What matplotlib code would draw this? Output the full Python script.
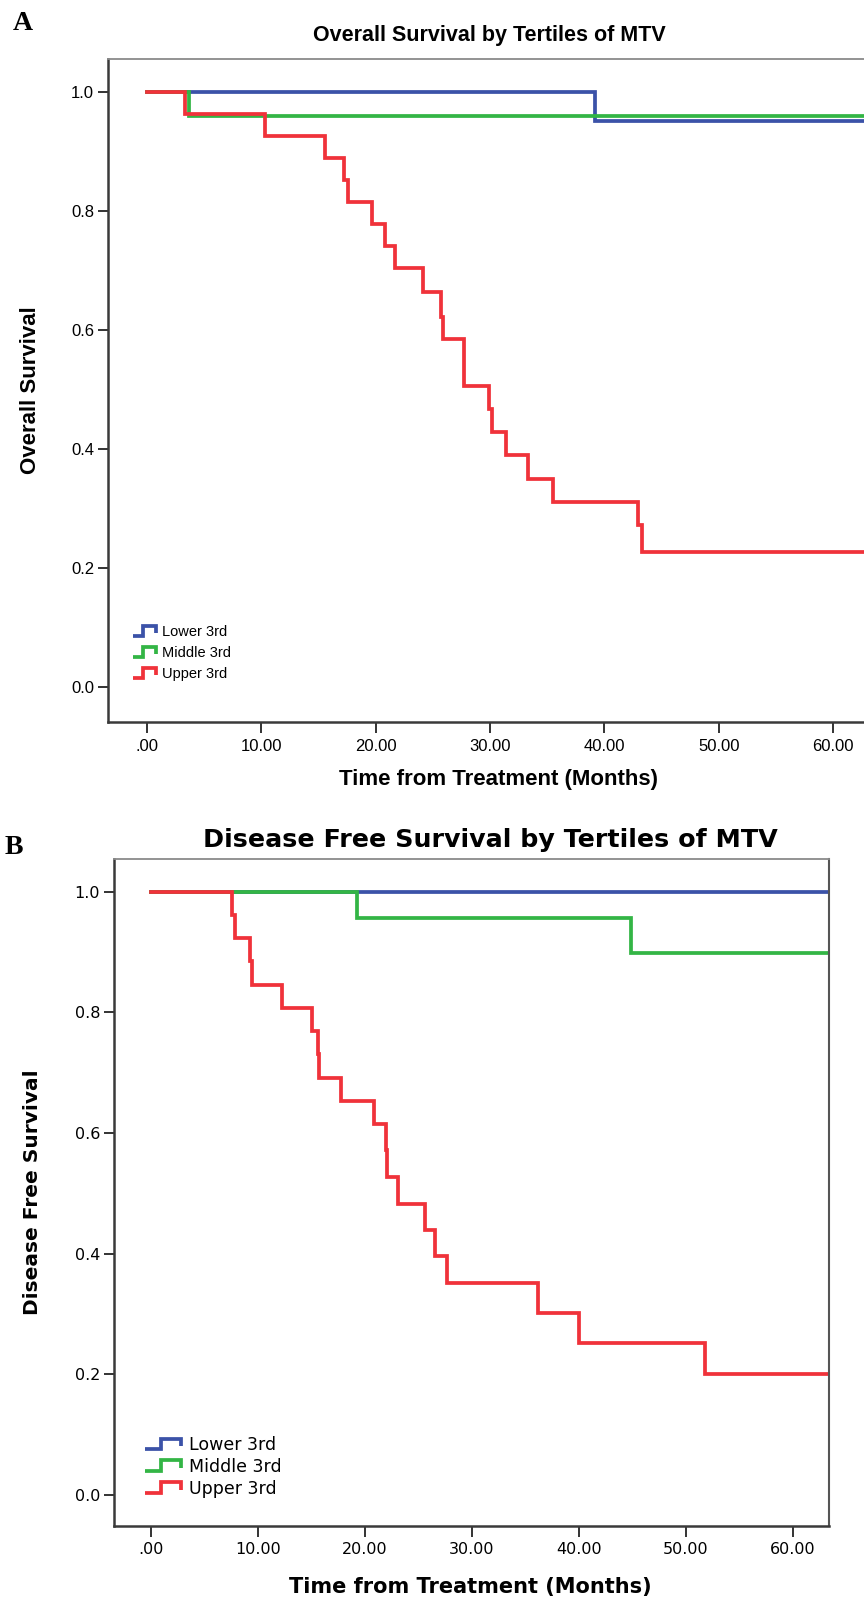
import matplotlib as mpl
mpl.use('AGG')
import matplotlib.pyplot as plt
from matplotlib.lines import Line2D
from matplotlib.legend_handler import HandlerBase

# Overall survival (panel A), months / survival fraction
os_lower_t = [0, 39.2, 64]
os_lower_s = [1.0, 0.95, 0.95]
os_middle_t = [0, 3.7, 64]
os_middle_s = [1.0, 0.96, 0.96]
os_upper_t = [0, 3.3, 10.3, 15.6, 17.2, 17.6, 19.7, 20.8, 21.7, 24.1, 25.7,
              25.9, 27.7, 29.9, 30.2, 31.4, 33.3, 35.5, 42.9, 43.3, 64]
os_upper_s = [1.0, 0.963, 0.926, 0.889, 0.852, 0.815, 0.778, 0.741, 0.703,
              0.663, 0.622, 0.584, 0.506, 0.467, 0.428, 0.389, 0.350, 0.311,
              0.272, 0.227, 0.227]

# Disease free survival (panel B)
dfs_lower_t = [0, 64]
dfs_lower_s = [1.0, 1.0]
dfs_middle_t = [0, 19.3, 44.9, 64]
dfs_middle_s = [1.0, 0.957, 0.898, 0.898]
dfs_upper_t = [0, 7.55, 7.87, 9.3, 9.5, 12.3, 15.06, 15.6, 15.7, 17.8, 20.85,
               21.97, 22.1, 23.06, 25.6, 26.6, 27.7, 36.2, 40.0, 51.8, 64]
dfs_upper_s = [1.0, 0.962, 0.923, 0.885, 0.846, 0.808, 0.769, 0.731, 0.692,
               0.654, 0.615, 0.572, 0.527, 0.483, 0.439, 0.396, 0.352, 0.302,
               0.252, 0.201, 0.201]

labels = ['Lower 3rd', 'Middle 3rd', 'Upper 3rd']
colors = ['#3b52a8', '#33b545', '#f0323a']
xticks = [0, 10, 20, 30, 40, 50, 60]
xticklabels = ['.00', '10.00', '20.00', '30.00', '40.00', '50.00', '60.00']
yticks = [0.0, 0.2, 0.4, 0.6, 0.8, 1.0]


class StepHandler(HandlerBase):
    # legend key drawn as a little step, like SPSS does
    def create_artists(self, legend, orig_handle, xdescent, ydescent,
                       width, height, fontsize, trans):
        x0, y0 = -xdescent, -ydescent
        xs = [x0, x0 + 0.45 * width, x0 + 0.45 * width, x0 + width, x0 + width]
        ys = [y0 + 0.1 * height, y0 + 0.1 * height, y0 + 0.9 * height,
              y0 + 0.9 * height, y0 + 0.35 * height]
        ln = Line2D(xs, ys, color=orig_handle.get_color(),
                    lw=orig_handle.get_linewidth(), solid_joinstyle='miter',
                    solid_capstyle='butt')
        ln.set_transform(trans)
        return [ln]


arial = ['Liberation Sans', 'DejaVu Sans']
wide = ['DejaVu Sans']

fig = plt.figure(figsize=(8.64, 16.02), dpi=100)

W, H = 864., 1602.


def make_axes(l, r, t, b):
    return fig.add_axes([l / W, 1 - b / H, (r - l) / W, (b - t) / H])


def style(ax, fam, tsize, xlim, ylim, right_spine):
    ax.set_xlim(*xlim)
    ax.set_ylim(*ylim)
    ax.set_xticks(xticks)
    ax.set_xticklabels(xticklabels, family=fam, fontsize=tsize)
    ax.set_yticks(yticks)
    ax.set_yticklabels(['%.1f' % v for v in yticks], family=fam, fontsize=tsize)
    ax.tick_params(axis='y', length=7, width=1.4, pad=3, color='#333333')
    ax.tick_params(axis='x', length=8, width=1.4, pad=4, color='#333333')
    for s in ['left', 'bottom']:
        ax.spines[s].set_color('#3a3a3a')
        ax.spines[s].set_linewidth(1.8)
    ax.spines['top'].set_color('#8a8a8a')
    ax.spines['top'].set_linewidth(1.3)
    if right_spine:
        ax.spines['right'].set_color('#555555')
        ax.spines['right'].set_linewidth(1.5)
    else:
        ax.spines['right'].set_visible(False)


# ---- panel A ----
axA = make_axes(108, 864, 59, 722)
hA = []
for t, s, c in zip([os_lower_t, os_middle_t, os_upper_t],
                   [os_lower_s, os_middle_s, os_upper_s], colors):
    hA += axA.step(t, s, where='post', color=c, lw=2.7,
                   solid_joinstyle='miter')
style(axA, arial, 12, (-3.4, 62.7), (-0.059, 1.055), False)
axA.set_ylabel('Overall Survival', family=arial, fontsize=16,
               fontweight='bold')
axA.yaxis.set_label_coords(-0.0886, 0.5)
axA.set_xlabel('Time from Treatment (Months)', family=arial, fontsize=16,
               fontweight='bold')
axA.xaxis.set_label_coords(0.517, -0.086)
axA.xaxis.label.set_va('center')
axA.legend(hA, labels, handler_map={Line2D: StepHandler()},
           loc='upper left', bbox_to_anchor=(133 / W, 1 - 625 / H),
           bbox_transform=fig.transFigure, frameon=False,
           prop={'family': arial, 'size': 10.5}, handlelength=1.55,
           handleheight=0.9, handletextpad=0.45, labelspacing=0.47,
           borderpad=0, borderaxespad=0)
fig.text(489 / W, 1 - 36 / H, 'Overall Survival by Tertiles of MTV',
         family=arial, fontsize=15.5, fontweight='bold', ha='center',
         va='center')
fig.text(23 / W, 1 - 24 / H, 'A', family='Liberation Serif', fontsize=20,
         fontweight='bold', ha='center', va='center')

# ---- panel B ----
axB = make_axes(114, 829.3, 859.3, 1525.7)
hB = []
for t, s, c in zip([dfs_lower_t, dfs_middle_t, dfs_upper_t],
                   [dfs_lower_s, dfs_middle_s, dfs_upper_s], colors):
    hB += axB.step(t, s, where='post', color=c, lw=2.7,
                   solid_joinstyle='miter')
style(axB, wide, 11.5, (-3.43, 63.4), (-0.051, 1.054), True)
axB.set_ylabel('Disease Free Survival', family=wide, fontsize=14.5,
               fontweight='bold')
axB.yaxis.set_label_coords(-0.1007, 0.5)
axB.set_xlabel('Time from Treatment (Months)', family=wide, fontsize=15,
               fontweight='bold')
axB.xaxis.set_label_coords(0.498, -0.092)
axB.xaxis.label.set_va('center')
axB.legend(hB, labels, handler_map={Line2D: StepHandler()},
           loc='upper left', bbox_to_anchor=(145 / W, 1 - 1436 / H),
           bbox_transform=fig.transFigure, frameon=False,
           prop={'family': wide, 'size': 12.5}, handlelength=2.1,
           handleheight=0.8, handletextpad=0.45, labelspacing=0.22,
           borderpad=0, borderaxespad=0)
fig.text(490 / W, 1 - 840 / H, 'Disease Free Survival by Tertiles of MTV',
         family=wide, fontsize=18.3, fontweight='bold', ha='center',
         va='center')
fig.text(14 / W, 1 - 848 / H, 'B', family='Liberation Serif', fontsize=20,
         fontweight='bold', ha='center', va='center')

fig.savefig('out.png', dpi=100)
